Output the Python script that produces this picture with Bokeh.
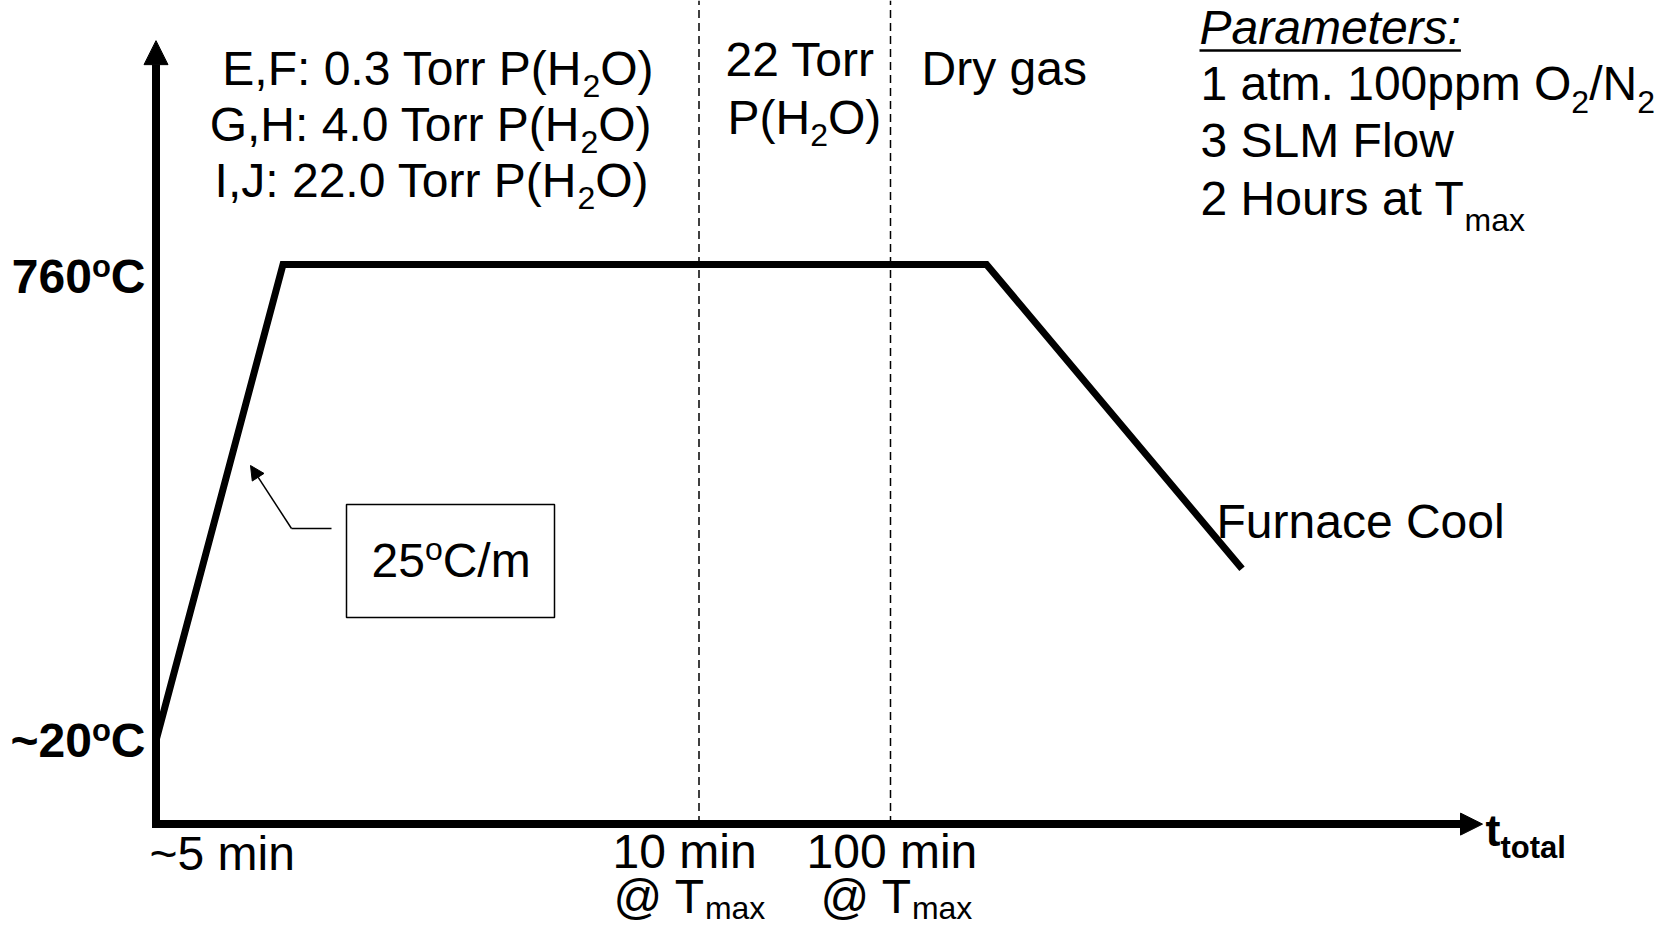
from bokeh.plotting import figure
from bokeh.models import Range1d, Arrow, NormalHead, ColumnDataSource
from bokeh.core.properties import value
from bokeh.embed import file_html
from bokeh.resources import INLINE

# ---------------- data (schematic furnace profile) ----------------
time_pts = [0.0, 1.27, 8.305, 10.86]      # schematic time units along t_total
temp_pts = [20, 760, 760, 287]             # temperature, degC
hold_marks = [5.43, 7.345]                 # "10 min @ Tmax", "100 min @ Tmax"
axis_T0 = -110.0                           # level of the time axis
axis_T_top = 1108.0                        # tip of temperature axis
axis_t_end = 13.265                        # tip of time axis
temp_labels = ["760", "~20"]
temp_label_vals = [760, 20]
left_lines = [("E,F: 0.3 Torr P(H", "O)"), ("G,H: 4.0 Torr P(H", "O)"), ("I,J: 22.0 Torr P(H", "O)")]
param_lines = ["3 SLM Flow"]

# ---------------- layout helpers ----------------
W, H = 1654, 926
X0_PX, PX_PER_T = 155.5, 100.0
Y20_PX, Y760_PX = 740.0, 264.0
K = (Y20_PX - Y760_PX) / 740.0

p = figure(width=W, height=H, output_backend="svg", toolbar_location=None,
           x_range=Range1d((0 - X0_PX) / PX_PER_T, (W - X0_PX) / PX_PER_T),
           y_range=Range1d(20 - (H - Y20_PX) / K, 20 + Y20_PX / K),
           x_axis_location=None, y_axis_location=None, min_border=0)
p.extra_x_ranges = {"px": Range1d(0, W)}
p.extra_y_ranges = {"px": Range1d(H, 0)}
p.grid.visible = False
p.outline_line_color = None
p.background_fill_color = "white"
p.border_fill_color = "white"

FONT = "Liberation Sans"
BASE_COMP = 0.37
W_REG = {' ': 278, '(': 333, ')': 333, ',': 278, '.': 278, '/': 278, ':': 278, '@': 1015, '~': 584,
         'A': 667, 'C': 722, 'D': 722, 'E': 667, 'F': 611, 'G': 778, 'H': 722, 'I': 278, 'J': 500,
         'L': 556, 'M': 833, 'N': 722, 'O': 778, 'P': 667, 'S': 667, 'T': 611,
         'a': 556, 'c': 500, 'e': 556, 'g': 556, 'i': 222, 'l': 222, 'm': 833, 'n': 556, 'o': 556,
         'p': 556, 'r': 333, 's': 500, 't': 278, 'u': 556, 'w': 722, 'x': 500, 'y': 500}
W_BOLD = {'~': 584, 'C': 722, 'o': 611, 't': 333, 'a': 556, 'l': 278}


def tw(s, size, style):
    tab = W_BOLD if style == "bold" else W_REG
    return sum(tab.get(c, 556) for c in s) * size / 1000.0


groups = {}


def put(x, y, t, size, style, align):
    g = groups.setdefault((size, style, align), {"x": [], "y": [], "text": []})
    g["x"].append(x)
    g["y"].append(y - BASE_COMP * size)
    g["text"].append(t)


def runs(x, y, parts, anchor="left"):
    """parts: (text, size, style, dy). First run is right-aligned at its end so
    kerning inside it does not open gaps before the following runs."""
    total = sum(tw(t, s, st) for t, s, st, dy in parts)
    if anchor == "right":
        x -= total
    for i, (t, s, st, dy) in enumerate(parts):
        w = tw(t, s, st)
        if i == 0 and len(parts) > 1:
            put(x + w, y + dy, t, s, st, "right")
        else:
            put(x, y + dy, t, s, st, "left")
        x += w
    return total


F, SUB = 48, 32

# ---------------- profile and axes ----------------
p.line(time_pts, temp_pts, line_color="black", line_width=7, line_join="miter")
for xm in hold_marks:
    p.line([xm, xm], [axis_T0, p.y_range.end], line_color="black", line_width=1.5, line_dash="8 5")

corr_t = 4.0 / PX_PER_T
corr_T = 4.0 / K
p.add_layout(Arrow(end=NormalHead(size=24, fill_color="black", line_color="black"),
                   x_start=0, y_start=axis_T0 - corr_T, x_end=0, y_end=axis_T_top,
                   line_width=8, line_color="black"))
p.add_layout(Arrow(end=NormalHead(size=22, fill_color="black", line_color="black"),
                   x_start=-corr_t, y_start=axis_T0, x_end=axis_t_end, y_end=axis_T0,
                   line_width=8, line_color="black"))

# ---------------- annotations (picture px) ----------------
for i, (a, b) in enumerate(left_lines):
    x_end = [653, 651, 648][i]
    y0 = 86 + 56 * i
    runs(x_end, y0, [(a, F, "normal", 0), ("2", SUB, "normal", 11), (b, F, "normal", 0)], anchor="right")

runs(725, 77, [("22 Torr", F, "normal", 0)])
runs(727, 135, [("P(H", F, "normal", 0), ("2", SUB, "normal", 11), ("O)", F, "normal", 0)])
runs(921, 86, [("Dry gas", F, "normal", 0)])

w_par = runs(1199, 45, [("Parameters:", F, "italic", 0)])
p.line([1199, 1199 + w_par], [50, 50], line_color="black", line_width=2.5,
       x_range_name="px", y_range_name="px")
runs(1200, 101, [("1 atm. 100ppm O", F, "normal", 0), ("2", SUB, "normal", 12),
                 ("/N", F, "normal", 0), ("2", SUB, "normal", 12)])
runs(1200, 158, [(param_lines[0], F, "normal", 0)])
runs(1200, 216, [("2 Hours at T", F, "normal", 0), ("max", SUB, "normal", 15)])

runs(1216, 539, [("Furnace Cool", F, "normal", 0)])

# rate box with leader arrow
p.quad(left=[346], right=[554], top=[504], bottom=[617], fill_color=None, line_color="black",
       line_width=1.5, x_range_name="px", y_range_name="px")
runs(371, 578, [("25", F, "normal", 0), ("o", 32, "normal", -18), ("C/m", F, "normal", 0)])
p.line([331, 291], [528, 528], line_color="black", line_width=1.5, x_range_name="px", y_range_name="px")
p.add_layout(Arrow(end=NormalHead(size=14, fill_color="black", line_color="black"),
                   x_start=291, y_start=528, x_end=250, y_end=465, line_width=1.5,
                   line_color="black", x_range_name="px", y_range_name="px"))

# temperature labels
for lab, tv in zip(temp_labels, temp_label_vals):
    yb = Y20_PX - (tv - 20) * K + (30 if tv == 760 else 18)
    runs(145, yb, [(lab, F, "bold", 0), ("o", 31, "bold", -17), ("C", F, "bold", 0)], anchor="right")

# time labels
runs(149, 871, [("~5 min", F, "normal", 0)])
runs(612, 869, [("10 min", F, "normal", 0)])
runs(613, 914, [("@ T", F, "normal", 0), ("max", SUB, "normal", 5)])
runs(806, 869, [("100 min", F, "normal", 0)])
runs(820, 914, [("@ T", F, "normal", 0), ("max", SUB, "normal", 5)])
runs(1485, 847, [("t", 45, "bold", 0), ("total", 31, "bold", 11)])

for (size, style, align), g in groups.items():
    p.text(x="x", y="y", text="text", source=ColumnDataSource(g), text_font=value(FONT),
           text_font_size=f"{size}px", text_font_style=style, text_color="black",
           text_align=align, text_baseline="alphabetic", x_range_name="px", y_range_name="px")

open("out.html", "w").write(file_html(p, INLINE))
